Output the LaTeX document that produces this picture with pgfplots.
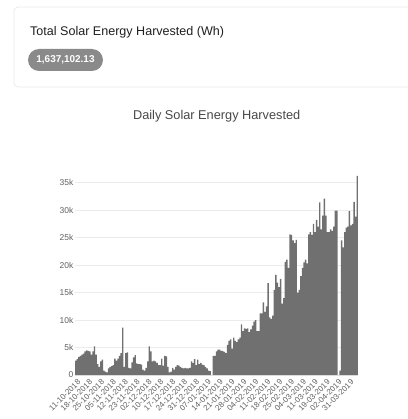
\documentclass[border=0pt]{standalone}
\usepackage{fontspec}
\setmainfont{Liberation Sans}
\usepackage{pgfplots}
\usepackage{pgfplotstable}
\pgfplotsset{compat=1.18}
\definecolor{barc}{RGB}{112,112,112}
\definecolor{badge}{RGB}{138,138,138}
\definecolor{gridc}{RGB}{236,236,236}
\definecolor{tickc}{RGB}{95,95,95}
\pgfplotstableread{
v
2.6
2.9
3.3
3.5
3.7
3.9
4.3
4.5
4.4
4.3
3.7
4.3
5.2
3.7
2.0
1.5
2.5
2.8
0.8
0.6
0.5
1.2
1.5
1.6
1.8
3.0
2.6
3.0
3.5
4.0
8.6
1.5
4.0
4.1
1.3
1.2
2.3
3.2
3.6
2.1
2.0
2.0
1.9
1.0
0.8
1.3
2.5
5.2
4.3
2.5
2.6
2.5
2.2
1.8
1.8
3.0
1.7
3.5
3.4
1.5
0.5
0.6
1.3
1.0
1.5
1.8
1.7
1.5
1.3
1.2
1.3
1.2
1.2
1.3
2.5
2.2
2.9
1.8
2.8
2.0
2.2
1.9
1.8
1.5
1.2
0.8
0.7
0
3.5
3.5
4.3
4.6
4.6
4.4
4.4
4.2
4.0
5.5
6.2
6.5
4.8
6.8
6.2
6.0
6.5
6.8
9.2
8.0
8.5
8.4
8.5
7.8
8.3
9.0
9.7
10.0
8.0
8.0
11.2
11.2
13.2
11.5
12.5
16.7
10.5
10.2
10.8
15.5
18.2
16.8
16.0
17.5
13.0
14.0
20.6
21.0
19.5
25.6
25.5
24.5
24.0
24.6
15.0
15.5
18.0
19.5
20.5
21.0
20.3
25.6
26.0
25.5
27.5
26.0
28.2
27.0
31.4
26.5
29.0
32.1
29.0
26.0
26.0
26.5
26.2
27.0
29.9
29.9
0
0.8
24.5
23.2
26.0
26.8
27.0
29.8
27.2
27.5
31.5
28.8
36.2
}\solar
\begin{document}
\begin{tikzpicture}[x=1bp,y=1bp]
\useasboundingbox (0,0) rectangle (408,419);
\draw[rounded corners=4bp, draw=black!9, line width=0.7bp] (14,332) rectangle (440,412);
\node[anchor=base west, inner sep=0, font=\fontsize{12.6}{14}\selectfont, text=black!88] at (30,384) {Total Solar Energy Harvested (Wh)};
\node[fill=badge, rounded corners=11bp, minimum width=75bp, minimum height=22bp, inner sep=0, text=white, font=\bfseries\fontsize{10}{11}\selectfont] at (65.5,359) {1,637,102.13};
\node[anchor=base, inner sep=0, font=\fontsize{12.8}{14}\selectfont, text=black!72] at (216.7,300) {Daily Solar Energy Harvested};
\begin{axis}[
  at={(75bp,44bp)}, anchor=south west,
  width=283bp, height=199bp, scale only axis,
  xmin=-0.5, xmax=180.5, ymin=0, ymax=36.2,
  axis line style={draw=none},
  tick style={draw=none},
  ymajorgrids, grid style={gridc, line width=0.9bp},
  ytick={0,5,10,15,20,25,30,35},
  yticklabels={0,5k,10k,15k,20k,25k,30k,35k},
  yticklabel style={font=\fontsize{8.5}{9}\selectfont, text=tickc, inner sep=1.5bp},
  xtick={0.3,7.9,15.5,23.1,30.7,38.3,45.9,53.5,61.1,68.7,76.3,83.9,91.5,99.1,106.7,114.3,121.9,129.5,137.1,144.7,152.3,159.9,167.5,175.1},
  xticklabels={11-10-2018,18-10-2018,25-10-2018,05-11-2018,12-11-2018,23-11-2018,02-12-2018,10-12-2018,17-12-2018,24-12-2018,31-12-2018,07-01-2019,14-01-2019,21-01-2019,28-01-2019,04-02-2019,11-02-2019,18-02-2019,25-02-2019,04-03-2019,11-03-2019,19-03-2019,02-04-2019,31-03-2019},
  xticklabel style={rotate=45, anchor=north east, font=\fontsize{8}{9}\selectfont, text=tickc, inner sep=1bp, xshift=-1bp, yshift=-2bp},
  /pgf/number format/assume math mode=true,
]
\addplot[ybar, bar width=0.88, fill=barc, draw=none] table[x expr=\coordindex, y=v] {\solar};
\end{axis}
\end{tikzpicture}
\end{document}
